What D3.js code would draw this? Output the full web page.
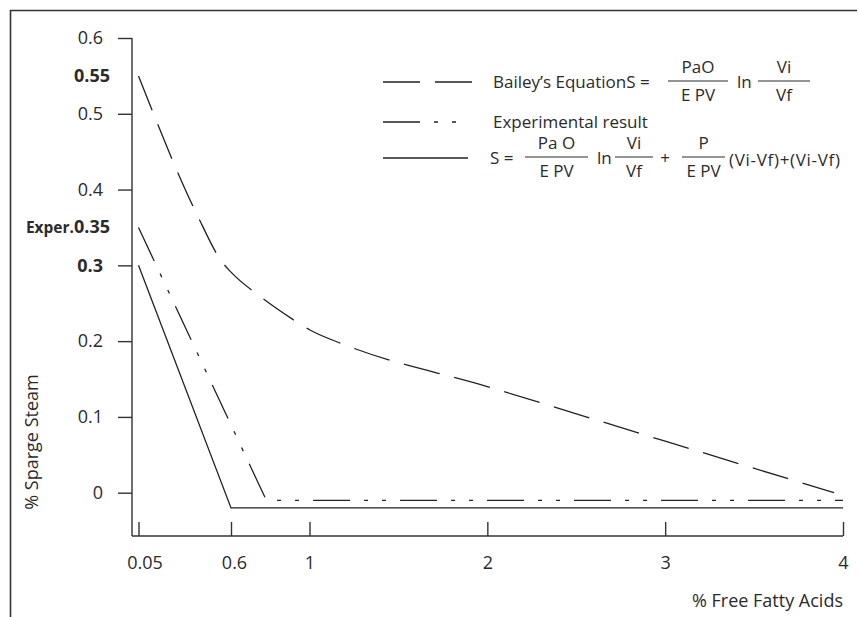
<!doctype html>
<html lang="en">
<head>
<meta charset="utf-8">
<script src="https://cdnjs.cloudflare.com/ajax/libs/d3/7.8.5/d3.min.js"></script>
<style>
  body { margin: 0; background: #fff; }
  svg { font-family: 'Open Sans', sans-serif; }
  .axis text { fill: #2b2b2b; font-size: 18px; font-family: 'Open Sans', sans-serif; }
  .axis line { stroke: #333; stroke-width: 1.4; }
  .lbl { fill: #2b2b2b; font-size: 17px; }
  .big { font-size: 18px; }
  .series { fill: none; stroke: #222; stroke-width: 1.3; }
</style>
</head>
<body>
<script>
// tick values
const xTicks = [0.05, 0.6, 1, 2, 3, 4];
const yTicks = [0, 0.1, 0.2, 0.3, 0.4, 0.5, 0.6];

// series
const baileyX = [0.05, 0.40, 0.545, 0.6, 0.743, 0.913, 1, 1.2, 2, 3, 3.95];
const baileyY = [0.55, 0.366, 0.305, 0.291, 0.26, 0.229, 0.215, 0.195, 0.14, 0.068, 0.0];
const experX = [0.05, 0.78, 4];
const experY = [0.35, -0.01, -0.01];
const modelX = [0.05, 0.6, 4];
const modelY = [0.3, -0.02, -0.02];

const w = 859, h = 617;

const svg = d3.select("body").append("svg")
  .attr("width", w)
  .attr("height", h);

// frame (cropped box: top and left only)
svg.append("line").attr("x1", 10).attr("x2", 857).attr("y1", 10.5).attr("y2", 10.5)
  .attr("stroke", "#333").attr("stroke-width", 1.6);
svg.append("line").attr("x1", 10.5).attr("x2", 10.5).attr("y1", 10).attr("y2", h)
  .attr("stroke", "#333").attr("stroke-width", 1.6);

// scales (the x axis of the original is not evenly spaced)
const x = d3.scaleLinear()
  .domain([0.05, 0.6, 1, 4])
  .range([138.5, 231, 309.5, 843]);

const y = d3.scaleLinear()
  .domain([0, 0.6])
  .range([492.7, 38]);

const axisX0 = 132, axisY0 = 536;

// y axis
const yAxis = d3.axisLeft(y)
  .tickValues(yTicks)
  .tickFormat(d => d === 0 ? "0" : d3.format(".1f")(d))
  .tickSize(14)
  .tickPadding(15);

const gy = svg.append("g")
  .attr("class", "axis")
  .attr("transform", "translate(" + axisX0 + ",0)")
  .call(yAxis);
gy.select(".domain").remove();
gy.selectAll(".tick text").filter(d => d === 0.3).style("font-weight", "bold");

svg.append("line")
  .attr("x1", axisX0).attr("x2", axisX0)
  .attr("y1", y(0.6)).attr("y2", axisY0)
  .attr("stroke", "#333").attr("stroke-width", 1.4);

// extra bold labels on y axis (no tick marks)
svg.append("text").attr("class", "lbl big")
  .attr("x", 110).attr("y", y(0.55)).attr("dy", "0.32em")
  .attr("text-anchor", "end").style("font-weight", "bold")
  .text("0.55");
const exper = svg.append("text").attr("class", "lbl big")
  .attr("x", 110).attr("y", y(0.35)).attr("dy", "0.32em")
  .attr("text-anchor", "end").style("font-weight", "bold");
exper.append("tspan").style("font-size", "15.5px").text("Exper.");
exper.append("tspan").text("0.35");

// x axis
const xAxis = d3.axisBottom(x)
  .tickValues(xTicks)
  .tickFormat(d => String(d))
  .tickSize(-14)
  .tickPadding(20);

const gx = svg.append("g")
  .attr("class", "axis")
  .attr("transform", "translate(0," + axisY0 + ")")
  .call(xAxis);
gx.select(".domain").remove();
gx.selectAll(".tick text").attr("dx", d => d === 0.05 ? 6 : (d === 0.6 ? 3 : 0));

svg.append("line")
  .attr("x1", axisX0).attr("x2", x(4))
  .attr("y1", axisY0).attr("y2", axisY0)
  .attr("stroke", "#333").attr("stroke-width", 1.4);

// axis titles
svg.append("text").attr("class", "lbl big")
  .attr("transform", "translate(38,442) rotate(-90)")
  .attr("text-anchor", "middle")
  .text("% Sparge Steam");

svg.append("text").attr("class", "lbl big")
  .attr("x", 843).attr("y", 607)
  .attr("text-anchor", "end")
  .text("% Free Fatty Acids");

// series
const line = d3.line().x(d => x(d[0])).y(d => y(d[1]));
const lineCurve = d3.line().x(d => x(d[0])).y(d => y(d[1])).curve(d3.curveMonotoneX);

const baileyDash = "37,15";
const experDash = "37,14,4,14,4,14";

svg.append("path")
  .datum(d3.zip(baileyX, baileyY))
  .attr("class", "series")
  .attr("stroke-dasharray", baileyDash)
  .attr("d", lineCurve);

svg.append("path")
  .datum(d3.zip(experX, experY))
  .attr("class", "series")
  .attr("stroke-dasharray", experDash)
  .attr("d", line);

svg.append("path")
  .datum(d3.zip(modelX, modelY))
  .attr("class", "series")
  .attr("d", line);

// legend
const lg = svg.append("g");
lg.append("line").attr("class", "series").attr("stroke-dasharray", baileyDash)
  .attr("x1", 383).attr("x2", 472).attr("y1", 82).attr("y2", 82);
lg.append("line").attr("class", "series").attr("stroke-dasharray", experDash)
  .attr("x1", 383).attr("x2", 457).attr("y1", 122).attr("y2", 122);
lg.append("line").attr("class", "series")
  .attr("x1", 383).attr("x2", 468).attr("y1", 158).attr("y2", 158);

function txt(xp, yp, s, anchor) {
  lg.append("text").attr("class", "lbl")
    .attr("x", xp).attr("y", yp)
    .attr("text-anchor", anchor || "start")
    .text(s);
}
function frac(x1, x2, yl, num, den) {
  lg.append("line").attr("x1", x1).attr("x2", x2).attr("y1", yl).attr("y2", yl)
    .attr("stroke", "#2b2b2b").attr("stroke-width", 1.2);
  txt((x1 + x2) / 2, yl - 8, num, "middle");
  txt((x1 + x2) / 2, yl + 20, den, "middle");
}

// row 1
txt(493, 88, "Bailey\u2019s EquationS =");
frac(668, 728, 81, "PaO", "E PV");
txt(737, 88, "ln");
frac(758, 810, 81, "Vi", "Vf");

// row 2
txt(493, 128, "Experimental result");

// row 3
txt(490, 164, "S =");
frac(525, 588, 157, "Pa O", "E PV");
txt(597, 164, "ln");
frac(615, 653, 157, "Vi", "Vf");
txt(665, 164, "+", "middle");
frac(682, 725, 157, "P", "E PV");
lg.append("text").attr("class", "lbl")
  .attr("x", 729).attr("y", 166)
  .attr("textLength", 111)
  .text("(Vi-Vf)+(Vi-Vf)");
</script>
</body>
</html>
